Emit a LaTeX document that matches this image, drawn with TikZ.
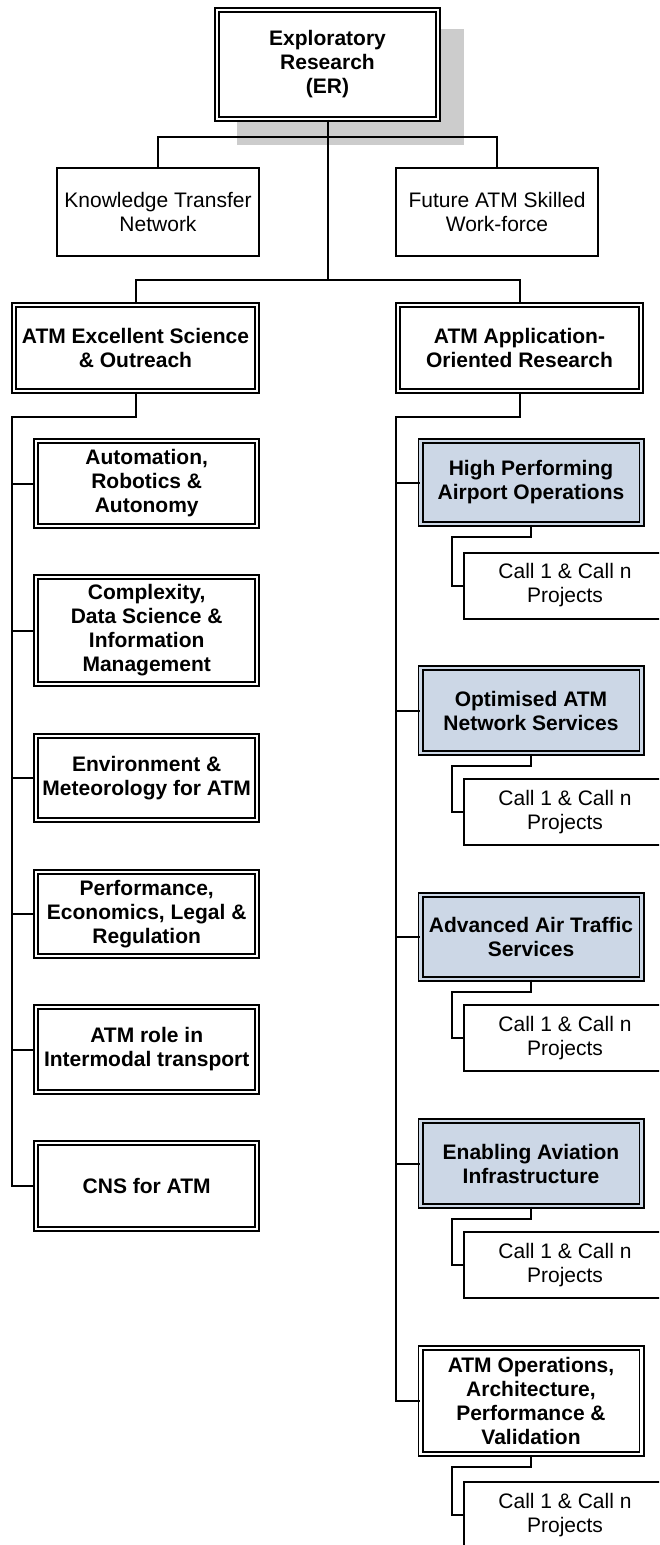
\documentclass[tikz,border=0pt]{standalone}
\usepackage{fontspec}
\setmainfont{Liberation Sans}
\definecolor{boxblue}{RGB}{204,215,230}
\definecolor{shadowgray}{RGB}{204,204,204}
\begin{document}
\begin{tikzpicture}[x=1pt,y=-1pt,
  txt/.style={align=center, inner sep=0pt, font=\fontsize{21}{24}\selectfont},
  sbox/.style={txt, draw, fill=white, line width=2pt, minimum width=202pt},
  dbox/.style={txt, draw, fill=white, line width=1.9pt, double=white, double distance=2.2pt,
               font=\fontsize{21}{24}\selectfont\bfseries, minimum width=221pt},
  hl/.style={fill=boxblue, double=boxblue},
  conn/.style={line width=2pt}
]
\useasboundingbox (0,0) rectangle (659,1545);
\clip (0,0) rectangle (659,1545);

% shadow of top box
\fill[shadowgray] (237,29) rectangle (464,145);

% top level
\node[dbox, minimum width=221pt, minimum height=109pt] (er) at (327.5,64.5) {Exploratory\\Research\\(ER)};
\node[sbox, minimum height=88pt] (kt) at (158,212) {Knowledge Transfer\\Network};
\node[sbox, minimum height=88pt] (fw) at (497,212) {Future ATM Skilled\\Work-force};
\node[dbox, minimum width=243pt, minimum height=86pt] (ex) at (135.5,348) {ATM Excellent Science\\\& Outreach};
\node[dbox, minimum width=243pt, minimum height=86pt] (ap) at (519.5,348) {ATM Application-\\Oriented Research};

% left column
\node[dbox, minimum height=85pt] (a1) at (146.7,483.5) {Automation,\\Robotics \&\\Autonomy};
\node[dbox, minimum height=107pt] (a2) at (146.7,630.5) {Complexity,\\Data Science \&\\Information\\Management};
\node[dbox, minimum height=84pt] (a3) at (146.7,778) {Environment \&\\Meteorology for ATM};
\node[dbox, minimum height=84pt] (a4) at (146.7,914) {Performance,\\Economics, Legal \&\\Regulation};
\node[dbox, minimum height=85pt] (a5) at (146.7,1049.5) {ATM role in\\Intermodal transport};
\node[dbox, minimum height=86pt] (a6) at (146.7,1186) {CNS for ATM};

% right column
\node[dbox, hl, minimum height=83pt] (b1) at (531,482.5) {High Performing\\Airport Operations};
\node[dbox, hl, minimum height=85pt] (b2) at (531,710.5) {Optimised ATM\\Network Services};
\node[dbox, hl, minimum height=84pt] (b3) at (531,937) {Advanced Air Traffic\\Services};
\node[dbox, hl, minimum height=85pt] (b4) at (531,1163.5) {Enabling Aviation\\Infrastructure};
\node[dbox, minimum height=106pt] (b5) at (531,1401) {ATM Operations,\\Architecture,\\Performance \&\\Validation};

% call boxes
\node[sbox, minimum height=66pt] (c1) at (565,585.5) {Call 1 \& Call n\\Projects};
\node[sbox, minimum height=66pt] (c2) at (565,812) {Call 1 \& Call n\\Projects};
\node[sbox, minimum height=66pt] (c3) at (565,1038) {Call 1 \& Call n\\Projects};
\node[sbox, minimum height=66pt] (c4) at (565,1265) {Call 1 \& Call n\\Projects};
\node[sbox, minimum height=66pt] (c5) at (565,1515) {Call 1 \& Call n\\Projects};

% connectors
\coordinate (j1) at (327.5,137);
\coordinate (j2) at (327.5,280);
\coordinate (ls) at (11.5,416.7);
\coordinate (rs) at (395.5,416.7);

\draw[conn] (er.south) -- (j2);
\draw[conn] (kt.north) |- (j1) -| (fw.north);
\draw[conn] (ex.north) |- (j2) -| (ap.north);

\draw[conn] (ex.south) |- (ls) -- (ls |- a6.west) -- (a6.west);
\foreach \n in {a1,a2,a3,a4,a5} \draw[conn] (ls |- \n.west) -- (\n.west);

\draw[conn] (ap.south) |- (rs) -- (rs |- b5.west) -- (b5.west);
\foreach \n in {b1,b2,b3,b4} \draw[conn] (rs |- \n.west) -- (\n.west);

\foreach \b/\c in {b1/c1,b2/c2,b3/c3,b4/c4,b5/c5}
  \draw[conn] (\b.south) -- ++(0,12) -| ([xshift=-11pt]\c.west) -- (\c.west);
\end{tikzpicture}
\end{document}
